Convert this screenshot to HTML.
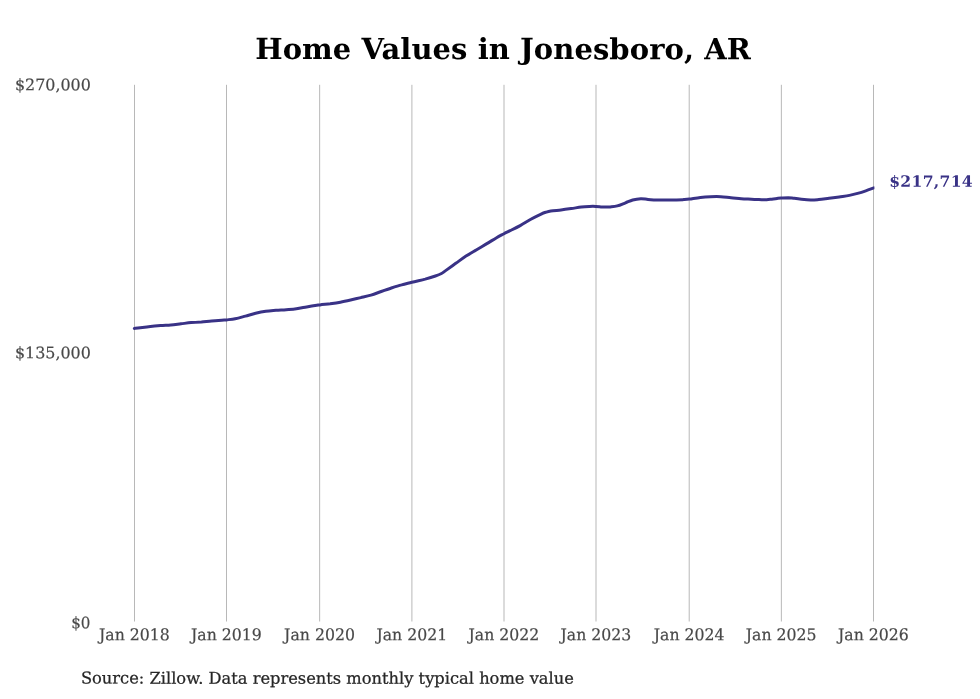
<!DOCTYPE html>
<html lang="en">
<head>
<meta charset="utf-8">
<title>Home Values in Jonesboro, AR</title>
<style>
  html, body { margin: 0; padding: 0; background: #ffffff; }
  body { width: 980px; height: 699px; overflow: hidden; font-family: "DejaVu Serif", "Liberation Serif", serif; }
  svg { display: block; }
  svg text { font-family: "DejaVu Serif", "Liberation Serif", serif; }
  .title { font-size: 29px; font-weight: bold; fill: #000000; text-anchor: middle; letter-spacing: 0.075px; }
  .grid rect { fill: #b8b8b8; }
  .xl text { font-size: 15.9px; fill: #484848; stroke: #484848; stroke-width: 0.2px; text-anchor: middle; }
  .yl text { font-size: 15.9px; fill: #484848; stroke: #484848; stroke-width: 0.2px; text-anchor: end; }
  .series { fill: none; stroke: #393286; stroke-width: 3; stroke-linecap: round; stroke-linejoin: round; }
  .last { font-size: 15.6px; letter-spacing: 0.3px; font-weight: bold; fill: #393286; }
  .src { font-size: 16.27px; fill: #262626; stroke: #262626; stroke-width: 0.25px; }
</style>
</head>
<body>
<svg width="980" height="699" viewBox="0 0 980 699">
  <rect width="980" height="699" fill="#ffffff"/>
  <text class="title" x="503.10" y="59.10" transform="rotate(0.03 503.10 59.10)">Home Values in Jonesboro, AR</text>
  <g class="grid">
    <rect x="134.00" y="84.8" width="1" height="536.7"/>
    <rect x="226.00" y="84.8" width="1" height="536.7"/>
    <rect x="319.15" y="84.8" width="1" height="536.7"/>
    <rect x="411.40" y="84.8" width="1" height="536.7"/>
    <rect x="503.50" y="84.8" width="1" height="536.7"/>
    <rect x="595.50" y="84.8" width="1" height="536.7"/>
    <rect x="688.70" y="84.8" width="1" height="536.7"/>
    <rect x="780.85" y="84.8" width="1" height="536.7"/>
    <rect x="873.00" y="84.8" width="1" height="536.7"/>
  </g>
  <g class="yl">
    <text x="90.80" y="90.20" transform="rotate(0.03 90.80 90.20)">$270,000</text>
    <text x="90.80" y="358.20" transform="rotate(0.03 90.80 358.20)">$135,000</text>
    <text transform="translate(90.40 628.20) rotate(0.03) scale(0.9500 1.0000)">$0</text>
  </g>
  <g class="xl">
    <text transform="translate(134.40 640.20) rotate(0.03) scale(0.9890 1.0200)">Jan 2018</text>
    <text transform="translate(226.40 640.20) rotate(0.03) scale(0.9890 1.0200)">Jan 2019</text>
    <text transform="translate(319.50 640.20) rotate(0.03) scale(0.9890 1.0200)">Jan 2020</text>
    <text transform="translate(411.80 640.20) rotate(0.03) scale(0.9890 1.0200)">Jan 2021</text>
    <text transform="translate(503.90 640.20) rotate(0.03) scale(0.9890 1.0200)">Jan 2022</text>
    <text transform="translate(595.90 640.20) rotate(0.03) scale(0.9890 1.0200)">Jan 2023</text>
    <text transform="translate(689.10 640.20) rotate(0.03) scale(0.9890 1.0200)">Jan 2024</text>
    <text transform="translate(781.20 640.20) rotate(0.03) scale(0.9890 1.0200)">Jan 2025</text>
    <text transform="translate(873.40 640.20) rotate(0.03) scale(0.9890 1.0200)">Jan 2026</text>
  </g>
  <clipPath id="plotclip"><rect x="120" y="80" width="754.4" height="545"/></clipPath>
  <path class="series" clip-path="url(#plotclip)" d="M134.3 328.4 C135.3 328.3 137.5 328.1 140.2 327.8 C142.9 327.5 147.0 327.0 150.4 326.6 C153.8 326.2 157.2 325.9 160.6 325.6 C164.0 325.3 167.4 325.3 170.8 325.0 C174.2 324.7 177.6 324.2 181.0 323.8 C184.4 323.4 187.8 322.9 191.2 322.6 C194.6 322.3 198.0 322.1 201.4 321.9 C204.8 321.6 208.2 321.4 211.6 321.1 C215.0 320.8 219.3 320.4 221.8 320.2 C224.3 320.0 224.2 320.1 226.4 319.9 C228.6 319.6 232.0 319.3 235.2 318.7 C238.4 318.1 242.0 317.0 245.4 316.1 C248.8 315.2 252.2 314.1 255.6 313.3 C259.0 312.5 262.4 311.8 265.8 311.3 C269.2 310.8 272.6 310.6 276.0 310.3 C279.4 310.0 282.8 310.0 286.2 309.7 C289.6 309.4 293.0 309.2 296.4 308.7 C299.8 308.2 303.2 307.5 306.6 306.9 C310.0 306.3 314.6 305.6 316.8 305.3 C319.0 305.0 317.8 305.1 320.0 304.9 C322.2 304.6 326.8 304.2 330.2 303.8 C333.6 303.3 337.0 302.8 340.4 302.2 C343.8 301.6 347.2 300.8 350.6 300.0 C354.0 299.2 357.4 298.4 360.8 297.6 C364.2 296.8 367.6 296.1 371.0 295.1 C374.4 294.1 377.8 292.7 381.2 291.5 C384.6 290.3 388.0 289.1 391.4 288.0 C394.8 286.9 398.2 285.8 401.6 284.9 C405.0 283.9 407.9 283.3 411.8 282.3 C415.7 281.3 421.3 280.1 425.2 279.1 C429.1 278.0 432.7 276.9 435.4 276.0 C438.1 275.1 439.8 274.4 441.5 273.5 C443.2 272.6 443.2 272.3 445.6 270.6 C448.0 268.9 452.4 265.7 455.8 263.3 C459.2 260.9 462.6 258.3 466.0 256.1 C469.4 253.9 472.8 252.0 476.2 250.0 C479.6 248.0 483.0 245.9 486.4 243.9 C489.8 241.9 493.7 239.4 496.6 237.7 C499.5 236.0 501.8 234.9 504.0 233.7 C506.2 232.5 507.3 232.1 510.0 230.7 C512.7 229.4 516.8 227.5 520.2 225.6 C523.6 223.7 527.0 221.4 530.4 219.5 C533.8 217.6 538.0 215.5 540.6 214.3 C543.2 213.1 544.0 212.8 545.7 212.3 C547.4 211.8 548.2 211.5 550.8 211.1 C553.3 210.7 557.6 210.4 561.0 210.0 C564.4 209.6 567.8 209.1 571.2 208.6 C574.6 208.1 578.3 207.4 581.4 207.0 C584.5 206.6 587.2 206.5 589.6 206.4 C592.0 206.3 593.9 206.3 595.9 206.4 C597.9 206.5 600.3 206.8 601.8 206.9 C603.3 207.0 603.7 207.1 605.1 207.1 C606.5 207.1 608.2 207.1 610.2 206.9 C612.2 206.7 614.8 206.6 617.3 205.9 C619.8 205.2 622.9 203.8 625.5 202.8 C628.1 201.8 630.2 200.7 632.7 200.0 C635.2 199.3 638.2 198.8 640.8 198.7 C643.3 198.6 645.5 199.2 648.0 199.4 C650.5 199.6 653.1 200.0 656.1 200.1 C659.1 200.2 662.9 200.0 666.3 200.0 C669.7 200.0 673.6 200.0 676.5 199.9 C679.4 199.8 681.5 199.7 683.7 199.6 C685.9 199.5 686.7 199.5 689.5 199.1 C692.3 198.7 696.9 197.8 700.4 197.4 C703.9 197.0 707.2 196.8 710.6 196.7 C714.0 196.6 717.4 196.5 720.8 196.7 C724.2 196.9 727.6 197.4 731.0 197.7 C734.4 198.0 737.8 198.4 741.2 198.7 C744.6 199.0 748.0 199.1 751.4 199.3 C754.8 199.5 759.0 199.6 761.6 199.7 C764.2 199.8 765.0 199.8 766.7 199.7 C768.4 199.6 769.9 199.4 771.8 199.2 C773.7 199.0 776.4 198.5 778.0 198.3 C779.6 198.1 779.9 198.1 781.6 198.0 C783.3 197.9 786.1 197.7 788.2 197.7 C790.3 197.8 792.1 198.1 794.3 198.3 C796.5 198.6 798.8 198.9 801.5 199.2 C804.2 199.5 807.8 199.9 810.7 200.0 C813.6 200.1 815.8 199.8 818.8 199.5 C821.8 199.2 825.6 198.7 829.0 198.3 C832.4 197.9 835.8 197.4 839.2 196.9 C842.6 196.4 846.3 196.0 849.4 195.4 C852.5 194.8 854.9 194.2 857.6 193.4 C860.3 192.6 863.1 191.7 865.8 190.8 C868.5 189.9 872.5 188.3 873.9 187.8"/>
  <text class="last" x="889.20" y="186.80" transform="rotate(0.03 889.20 186.80)">$217,714</text>
  <text class="src" x="80.90" y="683.60" transform="rotate(0.03 80.90 683.60)">Source: Zillow. Data represents monthly typical home value</text>
</svg>
</body>
</html>
